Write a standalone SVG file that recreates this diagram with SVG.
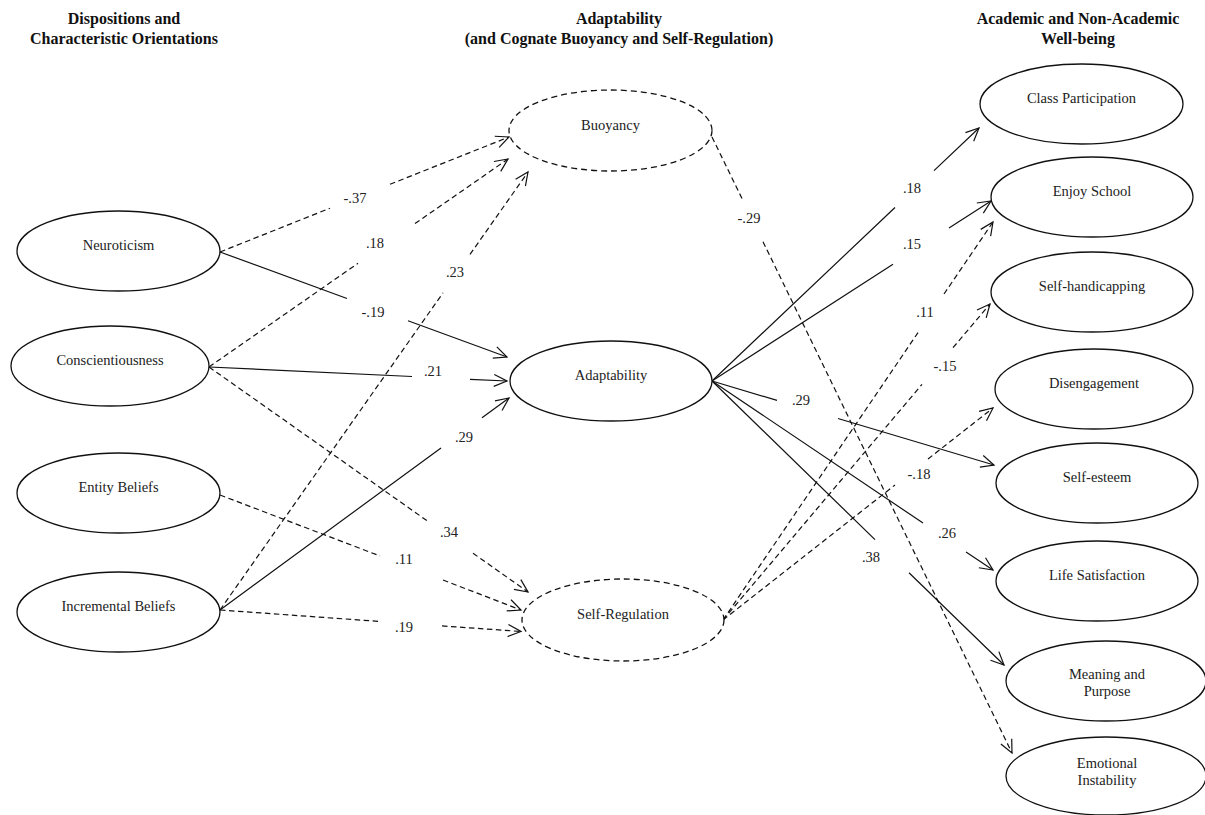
<svg xmlns="http://www.w3.org/2000/svg" width="1205" height="815" viewBox="0 0 1205 815">
<style>
.bg{fill:#fff}
.node{fill:#fff;stroke:#111;stroke-width:1.3}
.dnode{fill:#fff;stroke:#111;stroke-width:1.3;stroke-dasharray:6,4}
.nt{font-family:"Liberation Serif","Times New Roman",serif;font-size:14.5px;fill:#222;text-anchor:middle}
.hd{font-family:"Liberation Serif","Times New Roman",serif;font-size:16px;font-weight:bold;fill:#111;text-anchor:middle}
.lab{font-family:"Liberation Serif","Times New Roman",serif;font-size:14.5px;fill:#222;text-anchor:middle}
.solid{fill:none;stroke:#111;stroke-width:1.2;marker-end:url(#arr)}
.dash{fill:none;stroke:#111;stroke-width:1.2;stroke-dasharray:5.5,3.5;marker-end:url(#arr)}
</style>
<defs>
<marker id="arr" markerUnits="userSpaceOnUse" markerWidth="16" markerHeight="16" viewBox="-14 -8 16 16" refX="0" refY="0" orient="auto" overflow="visible">
<path d="M-13,-6 L0,0 L-13,6" fill="none" stroke="#111" stroke-width="1.2"/>
</marker>
</defs>
<rect class="bg" x="0" y="0" width="1205" height="815"/>

<g id="headers">
<text class="hd" x="124" y="23.5">Dispositions and</text>
<text class="hd" x="124" y="43.5">Characteristic Orientations</text>
<text class="hd" x="619" y="23.5">Adaptability</text>
<text class="hd" x="619" y="43.5">(and Cognate Buoyancy and Self-Regulation)</text>
<text class="hd" x="1078" y="23.5">Academic and Non-Academic</text>
<text class="hd" x="1078" y="43.5">Well-being</text>
</g>

<g id="connectors">
<path class="dash" d="M220,252 L330,208.2 M390,184.3 L509,137"/>
<path class="dash" d="M209,367 L358,263.3 M415,223.6 L508,159"/>
<path class="dash" d="M220,610 L443,292.9 M470,254.4 L528,172"/>
<path class="solid" d="M220,252 L347,298.5 M408,320.8 L507,357"/>
<path class="solid" d="M209,367 L412,376.5 M470,379.3 L507,381"/>
<path class="solid" d="M220,610 L441,447.9 M482,417.7 L509,398"/>
<path class="dash" d="M209,367 L427,520.7 M473,553.2 L528,592"/>
<path class="dash" d="M220,495 L380,556 M443,580 L521,610"/>
<path class="dash" d="M220,610 L379,621.4 M442,625.9 L521,631.5"/>
<path class="solid" d="M712,381 L895,207.5 M934,170.6 L979,128"/>
<path class="solid" d="M712,381 L893,264.2 M949,228.1 L991,201"/>
<path class="solid" d="M712,381 L777,400.4 M838,418.5 L994,465"/>
<path class="solid" d="M712,381 L923,523 M966,552 L993,570"/>
<path class="solid" d="M712,381 L875,539.6 M909,572.7 L1004,665"/>
<path class="dash" d="M712,137 L743,200.6 M763,241.7 L1012,753"/>
<path class="dash" d="M723,620 L918,332.6 M944,294 L993,222"/>
<path class="dash" d="M723,620 L922,384.4 M953,347.7 L990,304"/>
<path class="dash" d="M723,620 L895,485 M928,459 L993,408"/>
<text class="lab" x="355" y="203">-.37</text>
<text class="lab" x="375" y="248">.18</text>
<text class="lab" x="455" y="277">.23</text>
<text class="lab" x="373" y="317">-.19</text>
<text class="lab" x="433" y="376">.21</text>
<text class="lab" x="464" y="442">.29</text>
<text class="lab" x="449" y="537">.34</text>
<text class="lab" x="404" y="564">.11</text>
<text class="lab" x="404" y="632">.19</text>
<text class="lab" x="912" y="193">.18</text>
<text class="lab" x="912" y="249">.15</text>
<text class="lab" x="801" y="405">.29</text>
<text class="lab" x="947" y="538">.26</text>
<text class="lab" x="871" y="562">.38</text>
<text class="lab" x="749" y="223">-.29</text>
<text class="lab" x="925" y="317">.11</text>
<text class="lab" x="945" y="371">-.15</text>
<text class="lab" x="919" y="479">-.18</text>
</g>

<g id="neuroticism"><ellipse class="node" cx="118.5" cy="251" rx="101.5" ry="40"/><text class="nt" x="118.5" y="250">Neuroticism</text></g>
<g id="conscientiousness"><ellipse class="node" cx="110" cy="366" rx="99" ry="40"/><text class="nt" x="110" y="365">Conscientiousness</text></g>
<g id="entity-beliefs"><ellipse class="node" cx="118.5" cy="493" rx="101.5" ry="40"/><text class="nt" x="118.5" y="492">Entity Beliefs</text></g>
<g id="incremental-beliefs"><ellipse class="node" cx="118.5" cy="612" rx="101.5" ry="40"/><text class="nt" x="118.5" y="611">Incremental Beliefs</text></g>

<g id="buoyancy"><ellipse class="dnode" cx="610.5" cy="130.5" rx="101.5" ry="40.5"/><text class="nt" x="610.5" y="129.5">Buoyancy</text></g>
<g id="adaptability"><ellipse class="node" cx="611" cy="381" rx="101" ry="40"/><text class="nt" x="611" y="380">Adaptability</text></g>
<g id="self-regulation"><ellipse class="dnode" cx="623" cy="620" rx="101" ry="41"/><text class="nt" x="623" y="619">Self-Regulation</text></g>

<g id="class-participation"><ellipse class="node" cx="1081.5" cy="104" rx="101.5" ry="40"/><text class="nt" x="1081.5" y="103">Class Participation</text></g>
<g id="enjoy-school"><ellipse class="node" cx="1092" cy="197" rx="101" ry="40"/><text class="nt" x="1092" y="196">Enjoy School</text></g>
<g id="self-handicapping"><ellipse class="node" cx="1092" cy="292" rx="101" ry="40"/><text class="nt" x="1092" y="291">Self-handicapping</text></g>
<g id="disengagement"><ellipse class="node" cx="1094" cy="389" rx="99" ry="40"/><text class="nt" x="1094" y="388">Disengagement</text></g>
<g id="self-esteem"><ellipse class="node" cx="1097" cy="483" rx="101" ry="40"/><text class="nt" x="1097" y="482">Self-esteem</text></g>
<g id="life-satisfaction"><ellipse class="node" cx="1097" cy="581" rx="101" ry="40"/><text class="nt" x="1097" y="580">Life Satisfaction</text></g>
<g id="meaning-purpose"><ellipse class="node" cx="1106" cy="681" rx="100" ry="40"/><text class="nt" x="1107" y="679">Meaning and</text><text class="nt" x="1107" y="696">Purpose</text></g>
<g id="emotional-instability"><ellipse class="node" cx="1106" cy="776" rx="100" ry="39"/><text class="nt" x="1107" y="768">Emotional</text><text class="nt" x="1107" y="785">Instability</text></g>
</svg>
